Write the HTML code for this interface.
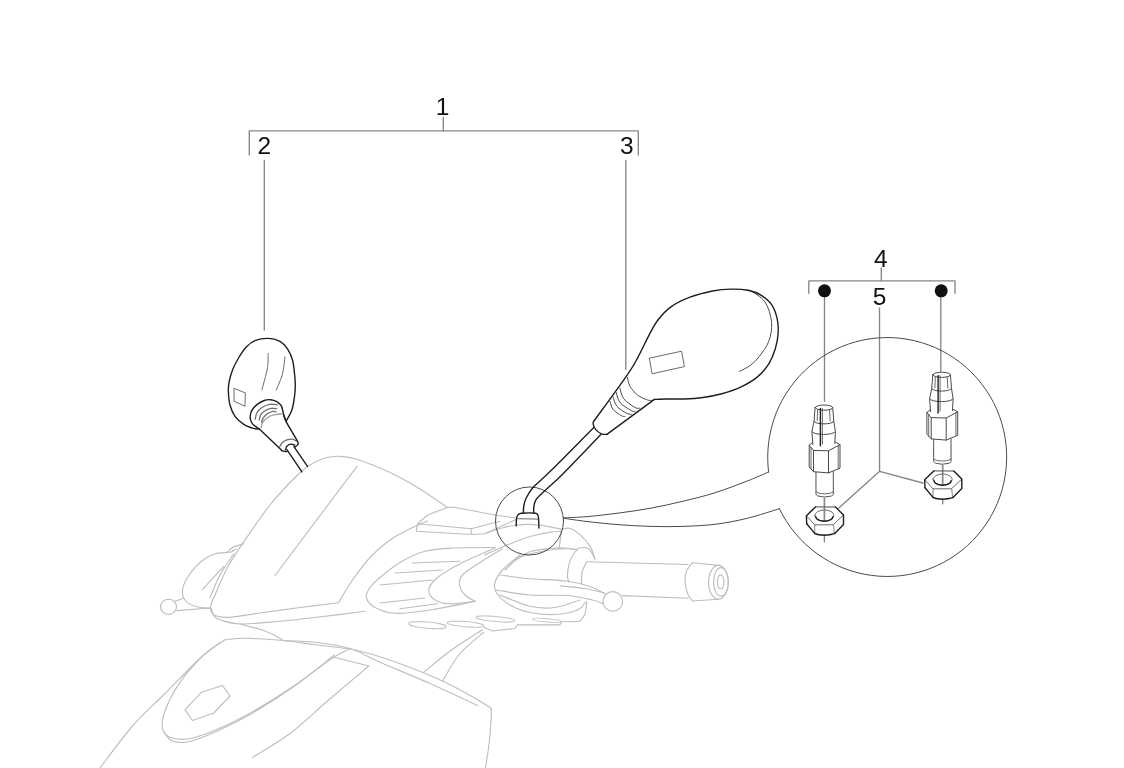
<!DOCTYPE html>
<html lang="en"><head><meta charset="utf-8"><title>Mirrors - parts diagram</title>
<style>
html,body{margin:0;padding:0;background:#fff;}
body{width:1124px;height:768px;overflow:hidden;position:relative;font-family:"Liberation Sans",Arial,sans-serif;}
svg{position:absolute;left:0;top:0;display:block;filter:blur(0.3px);}
text{font-family:"Liberation Sans",Arial,sans-serif;fill:#111;}
</style></head><body>
<svg width="1124" height="768" viewBox="0 0 1124 768">
<g stroke="#bebebe" stroke-width="1.15" fill="none" stroke-linecap="round" stroke-linejoin="round">
<path d="M211.3 612.5C211.2 611.2 210.2 607.9 210.8 605.0C211.4 602.1 212.2 601.2 215.0 595.0C217.8 588.8 222.5 576.7 227.5 567.5C232.5 558.3 237.9 550.4 245.0 540.0C252.1 529.6 261.7 515.4 270.0 505.0C278.3 494.6 288.3 484.2 295.0 477.5C301.7 470.8 305.0 468.2 310.0 465.0C315.0 461.8 320.0 459.4 325.0 458.0C330.0 456.6 334.6 456.1 340.0 456.3C345.4 456.6 349.2 456.8 357.5 459.5C365.8 462.2 380.0 467.8 390.0 472.5C400.0 477.2 407.9 481.7 417.5 487.5C427.1 493.3 442.5 504.2 447.5 507.5"/>
<path d="M357.0 466.3L275.0 575.5"/>
<path d="M211.3 608.5C211.6 609.3 212.0 612.2 213.0 613.5C214.0 614.8 214.7 615.7 217.5 616.3C220.3 616.9 222.1 617.9 230.0 617.2C237.9 616.5 253.3 613.9 265.0 612.3C276.7 610.7 287.8 609.1 300.0 607.5C312.2 605.9 332.1 603.6 338.5 602.8"/>
<path d="M338.5 602.8C340.8 599.0 347.2 587.5 352.5 580.0C357.8 572.5 363.8 564.2 370.0 557.5C376.2 550.8 383.3 544.8 390.0 540.0C396.7 535.2 403.8 532.0 410.0 528.8C416.2 525.6 424.6 522.3 427.5 521.0"/>
<path d="M211.3 611.0C211.9 612.0 213.6 615.5 215.0 617.0C216.4 618.5 215.8 618.6 220.0 619.8C224.2 621.0 230.4 623.7 240.0 624.0C249.6 624.3 265.0 622.6 277.5 621.5C290.0 620.4 300.4 619.2 315.0 617.5C329.6 615.8 356.7 612.3 365.0 611.3"/>
<path d="M240.0 624.0C244.2 625.2 257.9 628.4 265.0 631.0C272.1 633.6 279.6 638.3 282.5 639.8"/>
<path d="M243.8 543.8C241.9 544.4 235.4 546.0 232.5 547.5C229.6 549.0 229.2 551.5 226.3 552.5C223.4 553.5 219.4 552.1 215.0 553.8C210.6 555.5 204.6 558.5 200.0 562.5C195.4 566.5 190.4 572.9 187.5 577.5C184.6 582.1 182.9 586.2 182.5 590.0C182.1 593.8 182.9 597.3 185.0 600.0C187.1 602.7 190.6 604.9 195.0 606.3C199.4 607.7 208.6 608.1 211.3 608.5"/>
<path d="M223.8 566.3L202.5 589.3"/>
<path d="M233.8 553.8C231.5 557.3 224.0 567.7 220.0 575.0C216.0 582.3 211.7 593.8 210.0 597.5"/>
<path d="M226.3 552.5C227.1 552.4 229.4 552.6 231.0 552.0C232.6 551.4 235.2 549.5 236.0 549.0"/>
<path d="M160.5 606.8A8 7.6 0 1 1 176.5 606.8A8 7.6 0 1 1 160.5 606.8Z"/>
<path d="M175.0 601.3L183.8 598.3"/>
<path d="M177.0 610.6L210.0 608.0"/>
<path d="M225.0 639.8C221.2 642.5 212.5 647.0 202.5 656.0C192.5 665.0 176.7 681.8 165.0 693.5C153.3 705.2 143.3 713.6 132.5 726.0C121.7 738.4 105.4 761.0 100.0 768.0"/>
<path d="M225.0 639.8C228.3 639.5 235.4 638.2 245.0 638.3C254.6 638.4 270.8 639.4 282.5 640.5C294.2 641.6 302.9 643.2 315.0 644.8C327.1 646.4 342.1 647.3 355.0 650.0C367.9 652.7 377.9 655.8 392.5 661.0C407.1 666.2 428.3 674.5 442.5 681.0C456.7 687.5 469.4 695.2 477.5 699.8C485.6 704.4 489.0 707.0 491.3 708.5"/>
<path d="M491.3 708.5C491.3 709.6 491.2 716.2 491.0 720.0C490.8 723.8 489.4 741.2 488.8 746.0C488.2 750.8 485.8 765.8 485.5 768.0"/>
<path d="M220.0 642.3C216.2 645.4 204.6 653.7 197.5 661.0C190.4 668.3 182.9 677.7 177.5 686.0C172.1 694.3 167.5 703.9 165.0 711.0C162.5 718.1 161.7 724.1 162.5 728.5C163.3 732.9 165.8 735.5 170.0 737.3C174.2 739.0 180.8 739.8 187.5 739.0C194.2 738.2 200.4 736.1 210.0 732.3C219.6 728.5 231.7 723.3 245.0 716.0C258.3 708.7 275.8 697.9 290.0 688.5C304.2 679.1 320.0 666.5 330.0 659.8C340.0 653.1 346.7 650.4 350.0 648.5"/>
<path d="M163.8 732.0C165.2 733.5 168.1 739.4 172.5 741.0C176.9 742.6 182.9 743.0 190.0 741.5C197.1 740.0 205.0 736.5 215.0 732.0C225.0 727.5 236.7 722.2 250.0 714.5C263.3 706.8 280.9 695.6 295.0 685.7C309.1 675.8 327.9 660.1 334.5 655.0"/>
<path d="M282.5 640.5C287.9 640.8 303.8 641.0 315.0 642.3C326.2 643.6 339.2 645.2 350.0 648.5C360.8 651.8 366.7 656.5 380.0 662.3C393.3 668.1 413.8 676.3 430.0 683.5C446.2 690.7 469.6 701.8 477.5 705.5"/>
<path d="M333.8 657.3L368.8 666.0"/>
<path d="M368.8 666.0C361.9 671.8 340.6 689.8 327.5 701.0C314.4 712.2 302.5 724.1 290.0 733.5C277.5 742.9 258.8 753.3 252.5 757.3"/>
<path d="M185.0 709.8L201.3 692.3L222.5 685.5L230.0 696.0L213.8 713.0L192.5 720.5Z"/>
<path d="M482.5 629.8C477.1 633.3 459.8 643.9 450.0 651.0C440.2 658.1 428.2 668.8 423.8 672.3"/>
<path d="M483.8 632.3C479.8 635.8 466.9 645.4 460.0 653.5C453.1 661.6 445.4 676.4 442.5 681.0"/>
<path d="M447.5 507.5L427.5 515.0L417.5 523.8L416.3 531.3L471.3 534.5L485.0 533.8L497.5 528.0"/>
<path d="M447.5 507.5L452.5 507.0L495.0 515.0"/>
<path d="M417.5 523.8L471.3 528.8L500.0 521.3"/>
<path d="M471.3 528.8L471.3 534.5"/>
<path d="M495.0 547.5C488.3 547.6 466.7 547.4 455.0 548.0C443.3 548.6 434.2 548.9 425.0 551.3C415.8 553.7 407.5 558.1 400.0 562.5C392.5 566.9 385.0 573.3 380.0 577.5C375.0 581.7 372.3 584.2 370.0 587.5C367.7 590.8 365.5 594.2 366.3 597.5C367.1 600.8 370.2 604.9 375.0 607.5C379.8 610.1 385.8 612.9 395.0 613.3C404.2 613.7 416.7 612.0 430.0 610.0C443.3 608.0 467.5 602.8 475.0 601.3"/>
<path d="M412.5 563.0L460.0 561.3"/>
<path d="M395.0 573.0L442.5 570.0"/>
<path d="M380.0 585.0L432.5 580.0"/>
<path d="M380.0 603.0L425.0 598.0"/>
<path d="M400.0 608.8L437.5 603.8"/>
<path d="M495.0 548.0C489.6 550.4 472.1 557.6 462.5 562.5C452.9 567.4 443.1 572.9 437.5 577.5C431.9 582.1 429.2 586.2 428.8 590.0C428.4 593.8 431.5 597.7 435.0 600.0C438.5 602.3 443.3 603.6 450.0 603.8C456.7 604.0 470.8 601.7 475.0 601.3"/>
<path d="M502.5 548.8C498.8 551.1 486.7 558.1 480.0 562.5C473.3 566.9 465.9 571.2 462.5 575.0C459.1 578.8 459.1 581.7 459.5 585.0C459.9 588.3 462.4 592.3 465.0 595.0C467.6 597.7 473.3 600.2 475.0 601.3"/>
<path d="M520.0 555.0C517.1 557.5 506.7 565.4 502.5 570.0C498.3 574.6 496.0 578.8 495.0 582.5C494.0 586.2 493.8 588.8 496.3 592.5C498.8 596.2 504.4 601.7 510.0 605.0C515.6 608.3 522.5 610.9 530.0 612.5C537.5 614.1 547.1 614.9 555.0 614.5C562.9 614.1 572.5 612.0 577.5 610.0C582.5 608.0 583.8 603.8 585.0 602.5"/>
<path d="M485.0 554.9C488.6 553.3 499.3 548.2 506.4 545.3C513.5 542.4 520.6 539.4 527.7 537.3C534.8 535.1 543.4 533.4 549.0 532.4C554.6 531.4 559.2 531.6 561.3 531.4"/>
<path d="M561.9 529.2C563.3 529.1 567.2 527.4 570.4 528.5C573.6 529.6 577.6 532.5 581.0 535.6C584.4 538.8 588.4 543.3 590.7 547.4C593.0 551.5 594.3 557.9 595.0 560.0"/>
<path d="M505.0 570.0C507.5 567.9 513.8 560.6 520.0 557.5C526.2 554.4 534.6 552.8 542.5 551.3C550.4 549.8 561.7 549.0 567.5 548.8C573.3 548.6 575.8 549.8 577.5 550.0"/>
<path d="M577.8 548.5C576.6 550.3 572.4 555.0 570.7 559.1C569.0 563.2 567.9 569.6 567.5 573.4C567.1 577.2 568.3 580.6 568.5 582.0"/>
<path d="M577.8 548.5C578.8 548.3 582.1 547.4 584.0 547.5C585.9 547.6 587.6 547.6 589.4 549.4C591.2 551.2 593.8 556.8 594.7 558.3"/>
<path d="M586.7 561.8C586.0 563.4 583.1 567.9 582.2 571.6C581.3 575.3 581.5 581.9 581.4 584.0"/>
<path d="M586.7 561.8L688.1 564.5"/>
<path d="M692.6 562.7L718.4 565.4"/>
<path d="M622.3 595.6L688.1 598.3"/>
<path d="M692.6 601.0L718.4 599.2"/>
<path d="M692.6 562.7C691.5 564.2 687.5 568.3 686.3 571.6C685.0 574.9 684.8 578.4 685.1 582.3C685.4 586.1 686.9 591.6 688.1 594.7C689.4 597.8 691.9 600.0 692.6 601.0"/>
<path d="M708.6 582.3A9.8 16.9 0 1 1 728.2 582.3A9.8 16.9 0 1 1 708.6 582.3Z"/>
<path d="M713.6 581.9A7.4 14.2 0 1 1 728.4 581.9A7.4 14.2 0 1 1 713.6 581.9Z"/>
<path d="M717.4 581.9A3.3 7.1 0 1 1 724 581.9A3.3 7.1 0 1 1 717.4 581.9Z"/>
<path d="M500.0 575.0C505.0 575.6 518.8 577.8 530.0 578.8C541.2 579.8 557.1 579.8 567.5 581.3C577.9 582.8 586.2 585.4 592.5 587.5C598.8 589.6 602.9 592.9 605.0 594.0"/>
<path d="M496.3 590.0C501.9 590.8 518.1 594.1 530.0 595.0C541.9 595.9 557.1 594.7 567.5 595.5C577.9 596.3 586.5 598.6 592.5 600.0C598.5 601.4 601.7 603.3 603.5 604.0"/>
<path d="M560.0 585.8C564.2 586.2 577.6 587.3 585.0 588.5C592.4 589.7 601.2 592.2 604.5 593.0"/>
<path d="M603 601.4A9.8 9.8 0 1 1 622.6 601.4A9.8 9.8 0 1 1 603 601.4Z"/>
<path d="M500.0 595.0C505.0 596.9 520.8 604.2 530.0 606.3C539.2 608.4 546.7 608.5 555.0 607.5C563.3 606.5 575.8 601.2 580.0 600.0"/>
<path d="M586.7 601.9C586.4 604.0 586.1 611.0 584.9 614.3C583.7 617.5 580.5 620.2 579.6 621.4"/>
<path d="M579.6 621.5L561.3 621.8L560.0 624.8L517.5 624.8L515.0 628.5L492.5 631.0L483.8 627.3"/>
<path d="M495.0 515.0L516.0 518.0"/>
<path d="M497.5 528.0L516.0 519.6"/>
<path d="M485.0 533.5C487.7 532.6 495.8 529.6 501.0 528.2C506.2 526.8 511.6 525.6 516.0 525.0C520.5 524.4 523.9 524.4 527.7 524.4C531.5 524.4 535.4 524.6 538.9 525.0C542.4 525.4 545.2 525.9 549.0 526.6C552.8 527.3 559.8 528.8 561.9 529.2"/>
<path d="M561.3 531.4L559.2 548.5"/>
<path d="M515.0 560.0C517.5 558.6 524.1 553.6 529.8 551.7C535.5 549.8 543.1 549.1 549.0 548.5C554.9 547.9 560.5 547.8 565.0 548.0C569.5 548.2 573.9 549.2 575.7 549.5"/>
</g>
<g stroke="#868686" stroke-width="1.35" fill="none" stroke-linecap="round" stroke-linejoin="round">
<path d="M249.3 155.0L249.3 130.8L638.3 130.8L638.3 155.0"/>
<path d="M443.3 117.5L443.3 130.8"/>
<path d="M264.3 160.5L264.3 330.0"/>
<path d="M625.8 160.5L625.8 369.5"/>
<path d="M808.8 293.3L808.8 280.8L955.0 280.8L955.0 293.3"/>
<path d="M881.3 268.0L881.3 280.8"/>
<path d="M824.5 297.0L824.5 401.3"/>
<path d="M940.8 297.0L940.8 371.3"/>
<path d="M879.5 308.0L879.5 466.0"/>
<path d="M879.6 466.0L879.6 471.3L838.8 508.0"/>
<path d="M879.6 471.3L923.0 483.0"/>
<path d="M824.4 534.8L824.4 542.0"/>
<path d="M942.7 499.2L942.7 503.8"/>
</g>
<g stroke="#8a8a8a" stroke-width="1.7" fill="none" stroke-linecap="round" stroke-linejoin="round">
<path d="M824.4 498.6L824.4 520.6"/>
<path d="M942.7 465.4L942.7 484.6"/>
</g>
<g stroke="#a0a0a0" stroke-width="1.3" fill="none" stroke-linecap="round" stroke-linejoin="round">
<path d="M261.1 427.8C261.4 426.9 261.7 424.0 262.7 422.3C263.7 420.6 265.5 418.9 267.3 417.7C269.1 416.5 271.1 415.5 273.6 414.9C276.1 414.2 280.8 414.0 282.2 413.8"/>
<path d="M814.7 524.8L814.7 533.4"/>
<path d="M833.3 524.8L834.5 533.4"/>
<path d="M933.0 488.8L933.0 497.4"/>
<path d="M951.6 488.8L952.8 497.4"/>
</g>
<g stroke="#707070" stroke-width="1.3" fill="none" stroke-linecap="round" stroke-linejoin="round">
<path d="M279.8 446.6C280.2 446.0 281.0 443.8 282.2 442.7C283.4 441.6 285.2 440.5 286.9 439.9C288.6 439.3 290.7 438.9 292.3 439.1C293.9 439.3 295.6 440.8 296.3 441.1"/>
<path d="M255.2 419.2C255.5 418.2 255.7 414.9 256.8 413.0C257.9 411.1 259.8 408.9 261.9 407.5C264.0 406.1 267.1 404.8 269.7 404.4C272.3 403.9 276.2 404.7 277.5 404.8"/>
<path d="M259.1 420.0C259.4 419.0 260.0 415.7 261.1 414.1C262.2 412.5 264.1 411.2 265.8 410.2C267.5 409.2 269.5 408.6 271.3 408.3C273.1 408.1 275.8 408.6 276.7 408.7"/>
<path d="M261.5 422.3C261.8 421.5 262.4 419.1 263.4 417.7C264.4 416.3 265.7 414.9 267.3 413.8C268.9 412.8 271.4 411.7 272.8 411.4C274.2 411.1 275.4 411.7 275.9 411.8"/>
</g>
<g stroke="#6a6a6a" stroke-width="1" fill="none" stroke-linecap="round" stroke-linejoin="round">
<path d="M268.1 353.5C268.0 355.8 268.5 361.4 267.5 367.5C266.5 373.6 262.8 386.2 261.9 390.0"/>
<path d="M285.0 356.9C284.6 359.7 283.9 368.3 282.5 373.8C281.1 379.3 277.3 387.3 276.3 390.0"/>
<path d="M234.4 388.5L245.3 392.9L245.0 406.3L234.4 401.3Z"/>
<path d="M649.7 358.1L681.6 351.2L684.4 366.6L652.5 373.7Z"/>
<path d="M518.1 518.7L537.8 519.1"/>
<path d="M822.4 408.5L822.4 444.0"/>
<path d="M817.6 409.6L817.2 420.5"/>
<path d="M829.5 409.8L830.2 421.0"/>
<path d="M811.0 447.6L811.0 469.0"/>
<path d="M838.2 446.0L838.2 468.6"/>
<path d="M816.0 491.6A8.6 2.2 0 0 0 833.3 491.6"/>
<path d="M940.1 375.7L940.1 411.2"/>
<path d="M935.3 376.8L934.9 387.7"/>
<path d="M947.2 377.0L947.9 388.2"/>
<path d="M928.7 414.8L928.7 436.2"/>
<path d="M955.9 413.2L955.9 435.8"/>
<path d="M933.7 458.8A8.6 2.2 0 0 0 951.0 458.8"/>
<path d="M806.4 515.8L814.7 524.8L833.1 524.8L843.5 515.0"/>
<path d="M814.7 515.5A9.6 5.5 0 1 1 833.9 515.5A9.6 5.5 0 1 1 814.7 515.5Z"/>
<path d="M924.7 479.8L933.0 488.8L951.4 488.8L961.8 479.0"/>
<path d="M933.0 479.5A9.6 5.5 0 1 1 952.2 479.5A9.6 5.5 0 1 1 933.0 479.5Z"/>
</g>
<g stroke="#4a4a4a" stroke-width="1" fill="none" stroke-linecap="round" stroke-linejoin="round">
<path d="M750.0 290.3C752.5 292.2 761.4 296.5 765.0 301.9C768.6 307.3 771.0 315.9 771.6 322.5C772.2 329.1 770.8 335.7 768.8 341.3C766.8 346.9 762.5 352.2 759.4 356.3C756.3 360.4 753.3 363.1 750.0 365.6C746.7 368.1 741.4 370.4 739.7 371.3"/>
<path d="M627.5 377.5C627.9 379.0 628.3 383.4 630.0 386.3C631.7 389.2 634.6 392.7 637.5 395.0C640.4 397.3 645.0 399.1 647.5 400.0C650.0 400.9 651.7 400.2 652.5 400.3"/>
<path d="M620.0 388.1C620.6 389.9 621.3 395.6 623.8 398.8C626.3 402.0 632.3 405.9 635.0 407.5C637.7 409.1 639.2 408.0 640.0 408.1"/>
<path d="M616.3 392.5C616.9 394.2 617.5 399.5 620.0 402.5C622.5 405.5 628.8 409.1 631.3 410.6C633.8 412.1 634.4 411.2 635.0 411.3"/>
<path d="M613.1 396.9C613.7 398.5 614.7 403.6 616.9 406.3C619.1 409.0 623.9 411.8 626.3 413.1C628.7 414.5 630.5 414.2 631.3 414.4"/>
<path d="M610.0 401.3C610.5 402.6 611.2 407.0 613.1 409.4C615.0 411.8 619.3 414.4 621.3 415.6C623.3 416.8 624.4 416.4 625.0 416.5"/>
<path d="M563.5 521A34 34 0 1 1 495.5 521A34 34 0 1 1 563.5 521Z"/>
<path d="M563.5 517.9C567.4 517.7 577.8 517.4 587.0 516.6C596.2 515.8 608.3 514.4 619.0 513.0C629.7 511.6 640.4 510.1 651.1 508.1C661.8 506.1 672.4 503.8 683.1 501.2C693.8 498.6 704.5 496.1 715.2 492.7C725.9 489.3 738.3 484.4 747.2 481.0C756.1 477.6 765.0 473.5 768.6 472.0"/>
<path d="M563.5 518.3C567.4 518.8 577.8 520.4 587.0 521.5C596.2 522.6 608.3 523.9 619.0 524.7C629.7 525.5 640.4 526.1 651.1 526.4C661.8 526.7 672.4 526.8 683.1 526.4C693.8 526.0 704.5 525.6 715.2 524.3C725.9 522.9 736.5 520.9 747.2 518.3C757.9 515.7 774.0 510.3 779.4 508.7"/>
<path d="M768.6 472A119.5 119.5 0 1 1 779.4 508.7"/>
<path d="M815.1 407.6A8.8 2.6 0 1 1 832.7 407.6A8.8 2.6 0 1 1 815.1 407.6Z"/>
<path d="M815.1 407.6L814.0 421.3L811.9 431.7L812.9 444.5"/>
<path d="M832.7 407.6L833.8 421.3L835.4 431.7L834.8 443.5"/>
<path d="M814.0 421.3A9.9 2.6 0 0 0 833.8 421.3"/>
<path d="M811.9 431.7A11.8 3.0 0 0 0 835.4 431.7"/>
<path d="M812.6 442.6L809.2 445.2L813.5 450.4L828.5 450.8L840.0 444.6L835.6 442.2"/>
<path d="M809.2 445.2L809.2 467.0L813.5 471.7L828.5 472.9L840.0 468.1L840.0 444.6"/>
<path d="M813.5 450.4L813.5 471.7"/>
<path d="M828.5 450.8L828.5 472.9"/>
<path d="M816.0 472.2C816.0 473.3 815.9 492.8 816.0 494.0C816.1 495.2 817.6 495.9 818.0 496.0C818.4 496.1 823.8 497.0 824.5 497.0C825.2 497.0 831.1 496.1 831.5 496.0C831.9 495.9 833.2 495.2 833.3 494.0C833.4 492.8 833.3 472.7 833.3 471.6"/>
<path d="M932.8 374.8A8.8 2.6 0 1 1 950.4 374.8A8.8 2.6 0 1 1 932.8 374.8Z"/>
<path d="M932.8 374.8L931.7 388.5L929.6 398.9L930.6 411.7"/>
<path d="M950.4 374.8L951.5 388.5L953.1 398.9L952.5 410.7"/>
<path d="M931.7 388.5A9.9 2.6 0 0 0 951.5 388.5"/>
<path d="M929.6 398.9A11.8 3.0 0 0 0 953.1 398.9"/>
<path d="M930.3 409.8L926.9 412.4L931.2 417.6L946.2 418.0L957.7 411.8L953.3 409.4"/>
<path d="M926.9 412.4L926.9 434.2L931.2 438.9L946.2 440.1L957.7 435.3L957.7 411.8"/>
<path d="M931.2 417.6L931.2 438.9"/>
<path d="M946.2 418.0L946.2 440.1"/>
<path d="M933.7 439.4C933.7 440.5 933.6 460.0 933.7 461.2C933.8 462.4 935.3 463.1 935.7 463.2C936.1 463.3 941.5 464.2 942.2 464.2C942.9 464.2 948.8 463.3 949.2 463.2C949.6 463.1 950.9 462.4 951.0 461.2C951.1 460.0 951.0 439.9 951.0 438.8"/>
<path d="M815.5 506.9L835.5 507.0"/>
<path d="M933.8 470.9L953.8 471.0"/>
</g>
<g stroke="#1e1e1e" stroke-width="1.4" fill="none" stroke-linecap="round" stroke-linejoin="round">
<path d="M258.1 429.0C257.2 428.9 254.9 428.9 252.5 428.1C250.1 427.3 246.7 426.4 243.8 424.4C240.9 422.4 237.3 419.5 235.0 416.3C232.7 413.1 231.1 409.0 230.0 405.0C228.9 401.0 228.6 396.2 228.4 392.5C228.2 388.8 228.3 386.2 229.0 382.5C229.7 378.8 230.9 374.2 232.5 370.0C234.1 365.8 236.5 361.4 238.8 357.5C241.1 353.6 243.6 349.7 246.3 346.9C249.0 344.1 251.4 342.0 255.0 340.6C258.6 339.2 263.9 338.3 268.1 338.4C272.3 338.5 276.8 339.6 280.0 341.3C283.2 343.0 285.4 345.7 287.5 348.8C289.6 351.9 291.4 356.1 292.5 360.0C293.6 363.9 293.9 368.3 294.4 372.5C294.9 376.7 295.3 380.8 295.3 385.0C295.3 389.2 295.0 393.3 294.4 397.5C293.8 401.7 293.2 406.1 291.9 410.0C290.6 413.9 287.4 418.8 286.5 420.6"/>
<path d="M258.8 428.6C257.8 427.8 253.9 425.7 252.5 423.9C251.1 422.1 250.3 419.9 250.2 417.7C250.1 415.5 250.5 412.8 251.7 410.6C252.9 408.4 255.1 406.1 257.2 404.4C259.3 402.7 262.0 401.3 264.2 400.5C266.4 399.7 268.4 399.5 270.5 399.7C272.6 399.9 274.9 400.6 276.7 401.6C278.5 402.6 280.2 403.6 281.4 405.9C282.6 408.2 283.0 412.8 283.8 415.3C284.6 417.9 285.7 420.2 286.1 421.2"/>
<path d="M258.8 428.6C260.9 430.6 277.5 446.3 279.8 448.5C282.1 450.7 281.5 450.6 282.2 450.9C282.9 451.2 286.4 451.5 286.9 451.6"/>
<path d="M283.8 415.3C284.0 415.9 284.7 418.9 286.1 421.6C287.5 424.3 296.7 439.6 297.8 441.9C298.9 444.2 297.7 444.5 297.4 445.0C297.1 445.5 295.0 447.0 294.7 447.2"/>
<path d="M285.7 449.7C285.9 449.1 286.0 447.1 286.9 446.2C287.8 445.3 289.5 444.3 290.8 444.1C292.1 443.9 294.1 444.9 294.7 445.0"/>
<path d="M286.9 449.7L301.9 471.9"/>
<path d="M293.9 446.6L307.5 466.3"/>
<path d="M593.8 421.3C599.2 413.8 619.0 386.8 626.3 376.3C633.6 365.8 633.8 364.9 637.5 358.1C641.2 351.3 645.4 342.0 648.8 335.6C652.2 329.2 654.4 324.5 658.1 319.7C661.9 314.9 666.0 310.4 671.3 306.6C676.6 302.9 683.1 299.8 690.0 297.2C696.9 294.6 705.6 292.4 712.5 291.0C719.4 289.6 725.4 289.2 731.3 289.1C737.2 289.0 743.1 289.3 748.1 290.3C753.1 291.3 757.4 292.9 761.3 295.3C765.2 297.7 769.0 300.8 771.6 304.7C774.2 308.6 776.1 313.9 777.2 318.8C778.3 323.7 778.4 328.8 778.1 333.8C777.8 338.8 776.8 343.8 775.3 348.8C773.8 353.8 771.8 359.1 768.8 363.8C765.8 368.5 762.2 373.0 757.5 376.9C752.8 380.8 746.5 384.4 740.6 387.2C734.7 390.0 728.1 392.1 721.9 393.8C715.6 395.5 709.4 396.6 703.1 397.5C696.9 398.4 690.6 398.8 684.4 399.0C678.1 399.2 670.6 398.9 665.6 399.0C660.6 399.1 656.3 399.3 654.4 399.4"/>
<path d="M654.4 399.4L606.9 434.4"/>
<path d="M593.8 421.3C593.7 421.7 592.8 422.5 593.1 423.8C593.4 425.1 594.2 427.7 595.6 429.4C597.0 431.1 599.4 433.0 601.3 433.8C603.2 434.6 606.0 434.3 606.9 434.4"/>
<path d="M593.8 427.5C587.9 433.4 567.1 454.6 558.7 463.0C550.3 471.4 547.7 473.7 543.2 478.0C538.8 482.3 534.9 485.3 532.0 488.7C529.1 492.1 527.5 495.4 526.1 498.3C524.7 501.2 524.2 503.6 523.8 506.0C523.3 508.4 523.5 511.4 523.4 512.5"/>
<path d="M600.6 434.8C596.0 439.6 580.0 456.3 573.0 463.5C566.0 470.7 563.4 473.4 558.7 478.0C554.0 482.6 548.5 487.2 544.8 490.8C541.0 494.4 538.0 496.9 536.2 499.4C534.4 501.9 534.4 503.8 534.0 506.0C533.6 508.2 533.7 511.4 533.6 512.5"/>
<path d="M516.2 526.0C516.2 525.2 516.4 519.6 516.6 518.5C516.8 517.4 517.7 515.1 518.2 514.6C518.7 514.1 519.8 513.3 521.5 513.2C523.2 513.1 533.9 513.0 535.5 513.2C537.1 513.4 537.5 514.3 537.8 514.8C538.1 515.3 538.4 516.7 538.5 518.0C538.6 519.3 538.9 527.0 538.9 528.0"/>
<path d="M820.4 408.5L820.4 445.8"/>
<path d="M938.1 375.7L938.1 413.0"/>
<path d="M806.7 523.8L806.4 515.8L815.5 506.9"/>
<path d="M835.5 507.0L843.5 515.0L843.5 524.6L834.7 533.4"/>
<path d="M834.7 533.4C833.8 533.6 831.2 534.5 829.5 534.8C827.8 535.1 826.0 535.2 824.3 535.2C822.5 535.2 820.6 535.1 819.0 534.8C817.4 534.5 815.4 533.6 814.7 533.4"/>
<path d="M814.7 533.4L806.7 523.8"/>
<path d="M815.7 516.6A8.6 4.6 0 0 0 832.9 516.6"/>
<path d="M925.0 487.8L924.7 479.8L933.8 470.9"/>
<path d="M953.8 471.0L961.8 479.0L961.8 488.6L953.0 497.4"/>
<path d="M953.0 497.4C952.1 497.6 949.5 498.5 947.8 498.8C946.1 499.1 944.3 499.2 942.6 499.2C940.8 499.2 938.9 499.1 937.3 498.8C935.7 498.5 933.7 497.6 933.0 497.4"/>
<path d="M933.0 497.4L925.0 487.8"/>
<path d="M934.0 480.6A8.6 4.6 0 0 0 951.2 480.6"/>
</g>
<g stroke="#c4c4c4" stroke-width="1" fill="none"><ellipse cx="427.5" cy="625.2" rx="19.0" ry="3.1" transform="rotate(5.0 427.5 625.2)"/><ellipse cx="465.5" cy="624.2" rx="18.5" ry="2.6" transform="rotate(5.0 465.5 624.2)"/><ellipse cx="495.5" cy="619.0" rx="19.5" ry="2.6" transform="rotate(5.0 495.5 619.0)"/><ellipse cx="547.0" cy="620.4" rx="14.5" ry="1.7" transform="rotate(5.0 547.0 620.4)"/></g>
<g font-size="24.5" text-anchor="middle">
<text x="442.5" y="114.5">1</text>
<text x="264.2" y="154.3">2</text>
<text x="626.8" y="154.3">3</text>
<text x="880.8" y="267">4</text>
<text x="879.5" y="304.5">5</text>
</g>
<circle cx="824.5" cy="290.8" r="6.5" fill="#111"/>
<circle cx="941.2" cy="290.8" r="6.5" fill="#111"/>

</svg>
</body></html>
